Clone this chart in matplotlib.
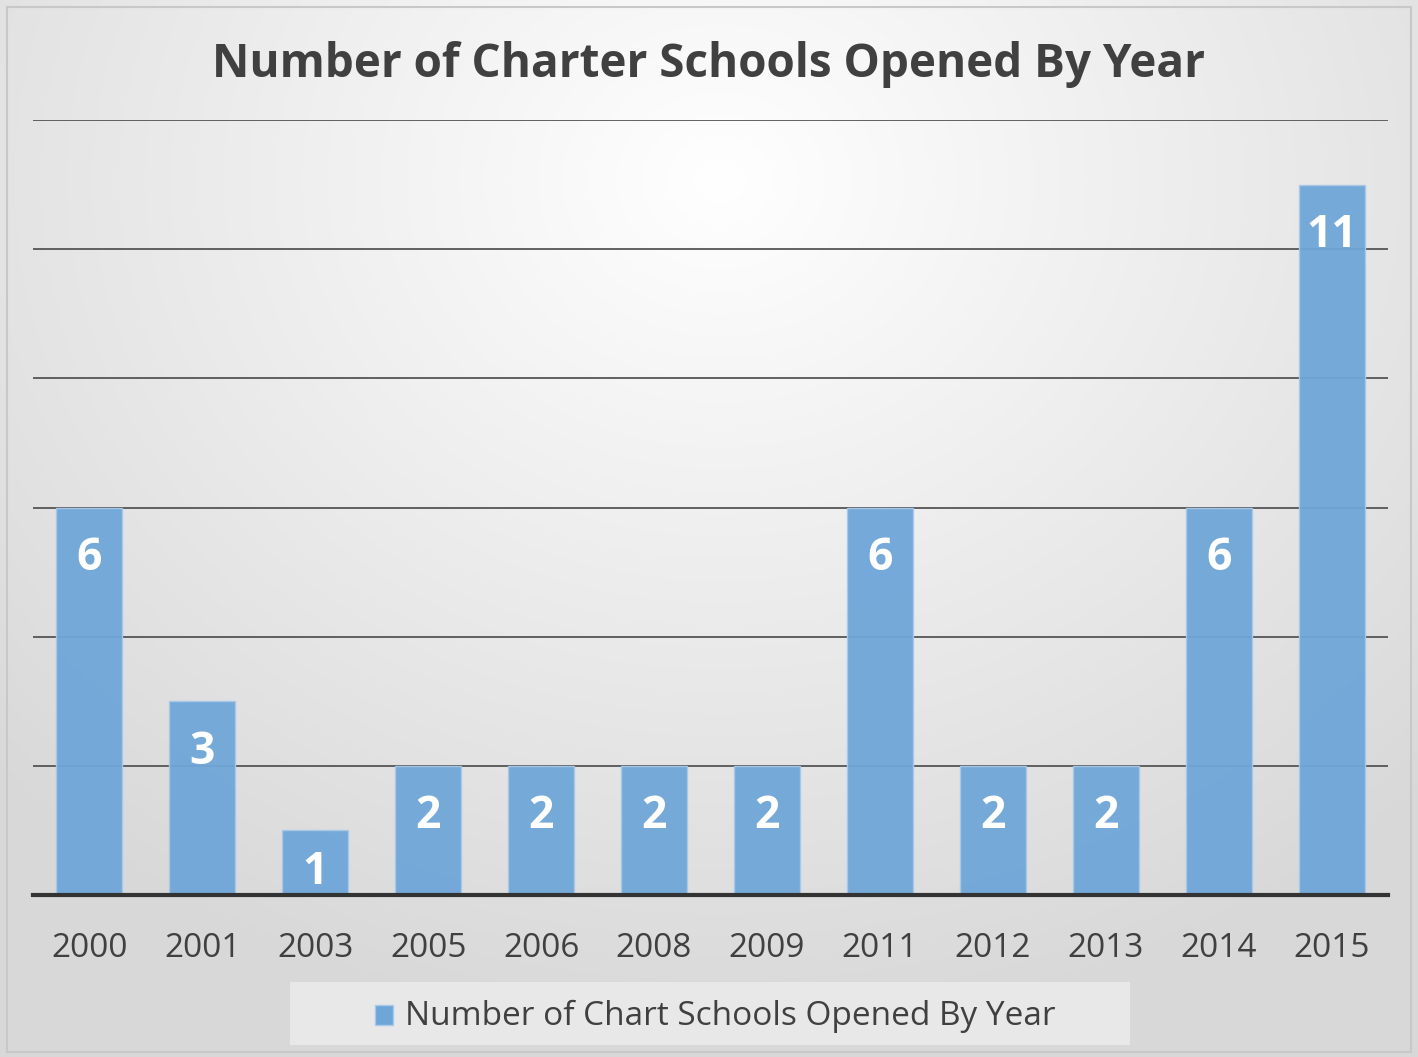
import numpy as np
import matplotlib.pyplot as plt
from matplotlib.patches import Rectangle

years = ['2000', '2001', '2003', '2005', '2006', '2008', '2009', '2011', '2012', '2013', '2014', '2015']
counts = [6, 3, 1, 2, 2, 2, 2, 6, 2, 2, 6, 11]
series_name = 'Number of Chart Schools Opened By Year'
title = 'Number of Charter Schools Opened By Year'

plt.rcParams['font.family'] = ['Open Sans', 'DejaVu Sans']

W, H = 1418, 1057
fig = plt.figure(figsize=(W / 100, H / 100), dpi=100)

# radial gradient background
bg = fig.add_axes([0, 0, 1, 1])
yy, xx = np.mgrid[0:H, 0:W]
r = np.sqrt(((xx - 720) / 1000) ** 2 + ((yy - 180) / 850) ** 2)
r = np.clip(r, 0, 1)
shade = 1.0 - 0.15 * r
bg.imshow(np.dstack([shade] * 3), aspect='auto', extent=[0, W, H, 0])
bg.set_xlim(0, W)
bg.set_ylim(H, 0)
bg.add_patch(Rectangle((7, 7), W - 14, H - 12, fill=False, edgecolor='#c8c8c8', lw=1.5))
bg.axis('off')

ax = fig.add_axes([33 / W, 1 - 895 / H, (1388 - 33) / W, (895 - 120) / H])
ax.patch.set_alpha(0)
x = np.arange(len(years))
bars = ax.bar(x, counts, width=0.585, color='#6fa6d8', edgecolor='#a9c9e8', lw=1, alpha=0.95, zorder=2)
ax.set_xlim(-0.5, len(years) - 0.5)
ax.set_ylim(0, 12)
ax.set_yticks(range(0, 13, 2))
ax.yaxis.grid(True, color='#555555', lw=1.3, zorder=0)
ax.set_axisbelow(True)
ax.tick_params(axis='y', left=False, labelleft=False)
ax.tick_params(axis='x', bottom=False, labelsize=24, colors='#404040', pad=23)
ax.set_xticks(x)
ax.set_xticklabels(years)
for s in ['left', 'right', 'top']:
    ax.spines[s].set_visible(False)
ax.spines['bottom'].set_color('#333333')
ax.spines['bottom'].set_linewidth(3)
ax.spines['bottom'].set_zorder(3)

# labels inside the bar end, kept inside short bars
px_per_unit = (895 - 120) / 12
for xi, v in zip(x, counts):
    off = min(51, v * px_per_unit - 22)
    ax.annotate(str(v), (xi, v), xytext=(0, -off), textcoords='offset pixels',
                ha='center', va='center', color='white', fontsize=32, fontweight='bold',
                zorder=4, annotation_clip=False)

fig.text(0.5, 1 - 64 / H, title, ha='center', va='center', fontsize=33,
         fontweight='bold', color='#404040')

# legend box
bg.add_patch(Rectangle((290, 982), 840, 63, facecolor='#e8e8e8', edgecolor='none'))
bg.add_patch(Rectangle((375, 1005), 18, 20, facecolor='#6fa6d8', edgecolor='#a9c9e8', lw=1))
bg.text(405, 1016, series_name, ha='left', va='center', fontsize=24, color='#404040')

fig.savefig('out.png', dpi=100)
